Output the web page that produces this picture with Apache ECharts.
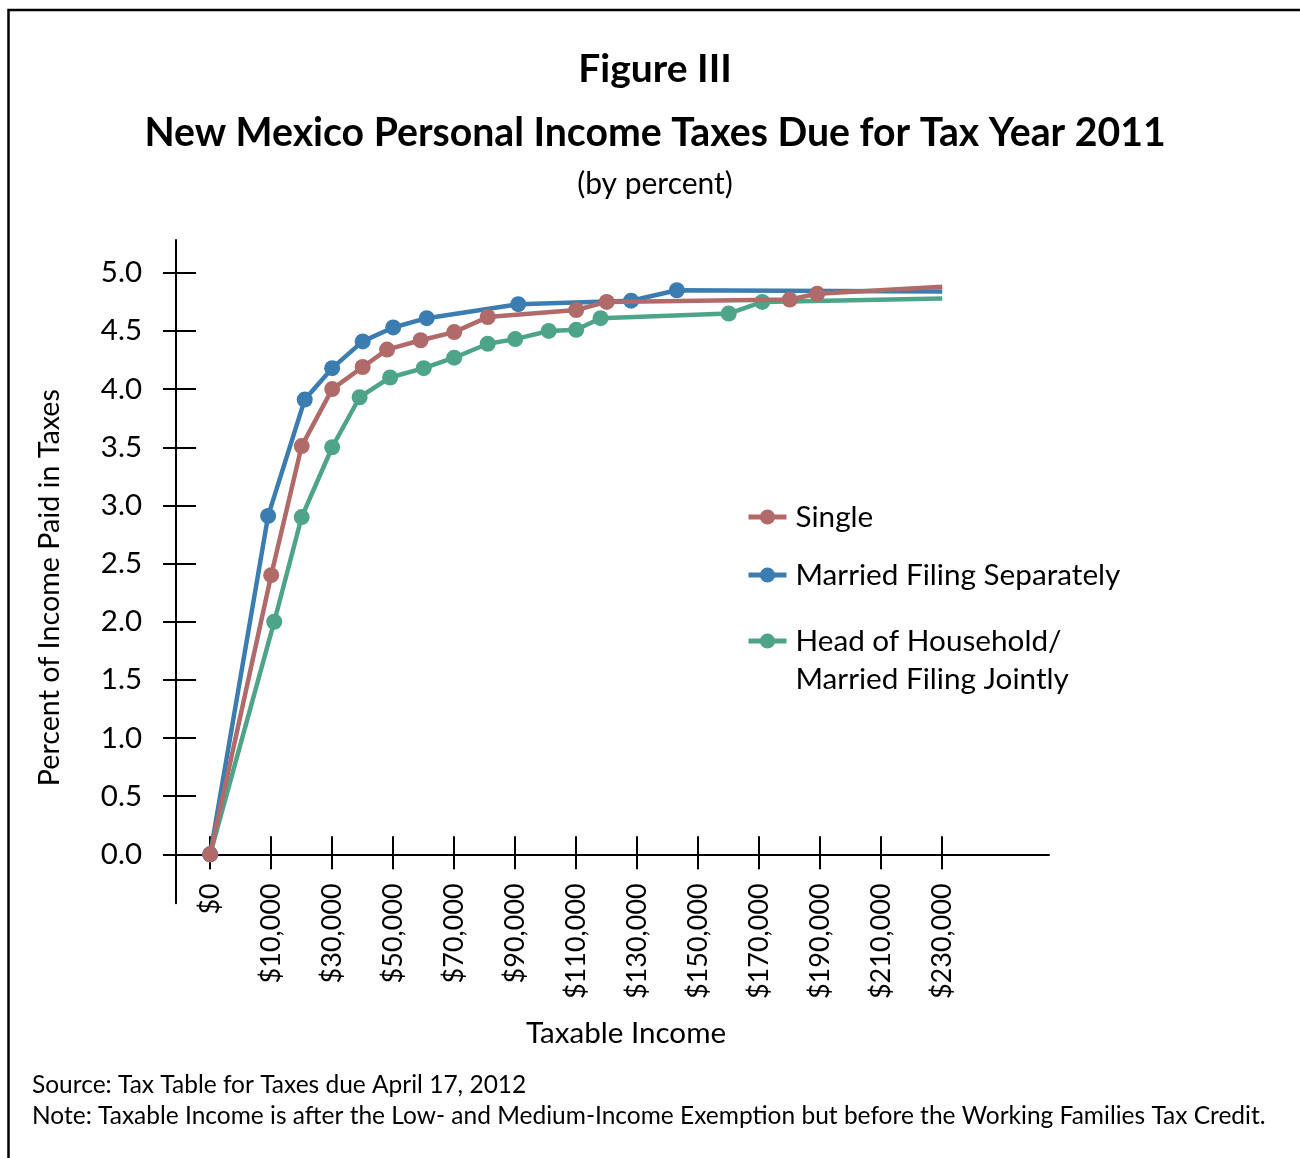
<!DOCTYPE html>
<html>
<head>
<meta charset="utf-8">
<script src="https://cdn.jsdelivr.net/npm/echarts@6/dist/echarts.min.js"></script>
<style>
  html, body { margin: 0; padding: 0; background: #fff; }
  #chart { width: 1300px; height: 1158px; }
</style>
</head>
<body>
<div id="chart"></div>
<script>
// ---- data ----
// The source draws its "$0" tick (and the origin point) one 20k-step left of $10,000.
const ZERO_POS = -10000;

const xTickValues = [ZERO_POS, 10000, 30000, 50000, 70000, 90000, 110000, 130000, 150000, 170000, 190000, 210000, 230000];
const xTickLabels = ['$0', '$10,000', '$30,000', '$50,000', '$70,000', '$90,000', '$110,000', '$130,000', '$150,000', '$170,000', '$190,000', '$210,000', '$230,000'];
const yTickValues = [0, 0.5, 1, 1.5, 2, 2.5, 3, 3.5, 4, 4.5, 5];

const singleIncome = [ZERO_POS, 10000, 20000, 30000, 40000, 48000, 59000, 70000, 81000, 110000, 120000, 180000, 189000, 230000];
const singleRate   = [0, 2.40, 3.51, 4.00, 4.19, 4.34, 4.42, 4.49, 4.62, 4.68, 4.75, 4.77, 4.82, 4.88];

const mfsIncome = [ZERO_POS, 9000, 21000, 30000, 40000, 50000, 61000, 91000, 128000, 143000, 230000];
const mfsRate   = [0, 2.91, 3.91, 4.18, 4.41, 4.53, 4.61, 4.73, 4.76, 4.85, 4.84];

const hohIncome = [ZERO_POS, 11000, 20000, 30000, 39000, 49000, 60000, 70000, 81000, 90000, 101000, 110000, 118000, 160000, 171000, 230000];
const hohRate   = [0, 2.00, 2.90, 3.50, 3.93, 4.10, 4.18, 4.27, 4.39, 4.43, 4.50, 4.51, 4.61, 4.65, 4.75, 4.78];

const NAME_SINGLE = 'Single';
const NAME_MFS = 'Married Filing Separately';
const NAME_HOH = 'Head of Household/\nMarried Filing Jointly';

// ---- helpers ----
function pairs(xs, ys) {
  return xs.map(function (x, i) {
    const item = { value: [x, ys[i]] };
    if (i === xs.length - 1) item.symbol = 'none';
    return item;
  });
}

const FONT = 'Lato';
const COL_SINGLE = '#B06A69';
const COL_MFS = '#3B7CB1';
const COL_HOH = '#4DA489';

const chart = echarts.init(document.getElementById('chart'), null, { renderer: 'canvas' });

function lineSeries(name, data, color, z) {
  return {
    name: name,
    type: 'line',
    xAxisIndex: 0,
    yAxisIndex: 0,
    data: data,
    symbol: 'circle',
    symbolSize: 16,
    showSymbol: true,
    z: z,
    lineStyle: { color: color, width: 4.5 },
    itemStyle: { color: color },
    emphasis: { disabled: true }
  };
}

function legendFor(name, top, formatter) {
  const l = {
    data: [name],
    orient: 'vertical',
    left: 746,
    top: top,
    padding: 0,
    itemWidth: 38,
    itemHeight: 19,
    selectedMode: false,
    lineStyle: { width: 5 },
    textStyle: {
      fontFamily: FONT, fontSize: 29.7, color: '#000', lineHeight: 38,
      padding: [0, 0, 0, 4]
    }
  };
  if (formatter) l.formatter = formatter;
  return l;
}

const option = {
  animation: false,
  backgroundColor: '#fff',
  grid: {
    left: 176, top: 240, width: 873, height: 663.3,
    containLabel: false,
    outerBoundsMode: 'none'
  },
  graphic: [
    { type: 'rect', z: -10, shape: { x: 8.5, y: 10, width: 1400, height: 1300 },
      style: { fill: 'none', stroke: '#000', lineWidth: 2.5 } },
    { type: 'text', x: 655, y: 69,
      style: { text: 'Figure III', fontFamily: FONT, fontWeight: 'bold', fontSize: 39, fill: '#000', align: 'center', verticalAlign: 'middle' } },
    { type: 'text', x: 655, y: 133,
      style: { text: 'New Mexico Personal Income Taxes Due for Tax Year 2011', fontFamily: FONT, fontWeight: 'bold', fontSize: 39.2, fill: '#000', align: 'center', verticalAlign: 'middle' } },
    { type: 'text', x: 655, y: 184,
      style: { text: '(by percent)', fontFamily: FONT, fontSize: 30, fill: '#000', align: 'center', verticalAlign: 'middle' } },
    { type: 'text', x: 32, y: 1085,
      style: { text: 'Source: Tax Table for Taxes due April 17, 2012', fontFamily: FONT, fontSize: 24.5, fill: '#000', align: 'left', verticalAlign: 'middle' } },
    { type: 'text', x: 32, y: 1116,
      style: { text: 'Note: Taxable Income is after the Low- and Medium-Income Exemption but before the Working Families Tax Credit.', fontFamily: FONT, fontSize: 24.5, fill: '#000', align: 'left', verticalAlign: 'middle' } }
  ],
  legend: [
    legendFor(NAME_SINGLE, 498),
    legendFor(NAME_MFS, 556),
    // leading blank line keeps the first text line level with the icon
    legendFor(NAME_HOH, 584, function (n) { return '\n' + n; })
  ],
  xAxis: [
    {
      type: 'value',
      position: 'bottom',
      min: -21200,
      max: 265000,
      splitLine: { show: false },
      axisLine: { show: true, onZero: true, lineStyle: { color: '#000', width: 2 } },
      axisTick: { show: true, customValues: xTickValues, length: 15, lineStyle: { color: '#000', width: 2 } },
      axisLabel: {
        show: true,
        customValues: xTickValues,
        rotate: 90,
        margin: -20,
        fontFamily: FONT, fontSize: 27, color: '#000',
        formatter: function (v) {
          const i = xTickValues.indexOf(v);
          return i >= 0 ? xTickLabels[i] : '';
        }
      },
      name: 'Taxable Income',
      nameLocation: 'middle',
      nameGap: 115,
      nameTextStyle: { fontFamily: FONT, fontSize: 29.6, color: '#000', padding: [0, 0, 0, 27] }
    },
    {
      type: 'value',
      position: 'bottom',
      min: -21200,
      max: 265000,
      splitLine: { show: false },
      axisLine: { show: false, onZero: true, onZeroAxisIndex: 0 },
      axisTick: { show: true, inside: true, customValues: xTickValues, length: 18, lineStyle: { color: '#000', width: 2 } },
      axisLabel: { show: false }
    }
  ],
  yAxis: [
    {
      type: 'value',
      position: 'left',
      min: -0.421,
      max: 5.282,
      splitLine: { show: false },
      axisLine: { show: true, onZero: false, lineStyle: { color: '#000', width: 2 } },
      axisTick: { show: true, customValues: yTickValues, length: 13, lineStyle: { color: '#000', width: 2 } },
      axisLabel: {
        show: true,
        customValues: yTickValues,
        margin: 34,
        fontFamily: FONT, fontSize: 29.5, color: '#000',
        formatter: function (v) { return v.toFixed(1); }
      },
      name: 'Percent of Income Paid in Taxes',
      nameLocation: 'middle',
      nameGap: 112,
      nameTextStyle: { fontFamily: FONT, fontSize: 28.7, color: '#000', padding: [0, 32, 0, 0] }
    },
    {
      type: 'value',
      position: 'left',
      min: -0.421,
      max: 5.282,
      splitLine: { show: false },
      axisLine: { show: false, onZero: false },
      axisTick: { show: true, inside: true, customValues: yTickValues, length: 20, lineStyle: { color: '#000', width: 2 } },
      axisLabel: { show: false }
    }
  ],
  series: [
    lineSeries(NAME_HOH, pairs(hohIncome, hohRate), COL_HOH, 2),
    lineSeries(NAME_MFS, pairs(mfsIncome, mfsRate), COL_MFS, 3),
    lineSeries(NAME_SINGLE, pairs(singleIncome, singleRate), COL_SINGLE, 4)
  ]
};

chart.setOption(option);
</script>
</body>
</html>
